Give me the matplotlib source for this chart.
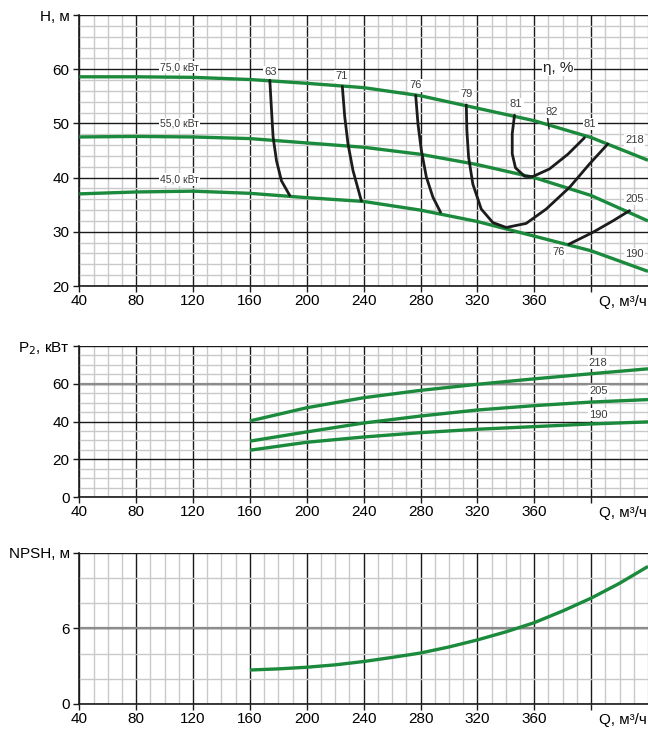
import numpy as np
import matplotlib
matplotlib.use('Agg')
import matplotlib.pyplot as plt
from matplotlib import font_manager as fm

names = {f.name for f in fm.fontManager.ttflist}
NARROW = 'Liberation Sans Narrow' if 'Liberation Sans Narrow' in names else 'Liberation Sans'
plt.rcParams['font.family'] = ['Liberation Sans', 'DejaVu Sans']
TICK_FS = 12 if NARROW == 'Liberation Sans Narrow' else 11

# --- H(Q) curves for three impeller diameters
Q_h = [40, 80, 120, 160, 200, 240, 280, 320, 360, 400, 440]
H_218 = [58.6, 58.6, 58.5, 58.1, 57.4, 56.6, 55.1, 52.8, 50.5, 47.4, 43.2]
H_205 = [47.5, 47.6, 47.5, 47.2, 46.4, 45.6, 44.3, 42.4, 40.0, 36.7, 32.0]
H_190 = [37.0, 37.35, 37.5, 37.1, 36.3, 35.6, 34.0, 31.9, 29.2, 26.5, 22.7]

# --- efficiency iso-lines (Q, H)
eta63_Q = [174.0, 175.2, 176.3, 178.7, 182.2, 188.0]
eta63_H = [57.96, 52.4, 47.5, 43.1, 39.4, 36.7]
eta71_Q = [225.0, 226.7, 229.0, 232.5, 238.4]
eta71_H = [56.85, 51.2, 46.2, 41.3, 35.7]
eta76_Q = [276.6, 278.2, 280.6, 284.1, 288.7, 294.1]
eta76_H = [55.2, 49.9, 45.0, 40.1, 36.4, 33.6]
eta79_Q = [312.2, 312.6, 313.8, 316.8, 322.7, 330.9, 340.3, 354.3, 368.4, 384.8, 398.8, 411.7]
eta79_H = [53.4, 48.7, 43.8, 38.8, 34.2, 31.7, 30.8, 31.55, 34.2, 38.2, 42.5, 46.2]
eta81_Q = [346.1, 344.5, 344.5, 346.8, 353.2, 359.0, 370.7, 383.6, 395.3]
eta81_H = [51.5, 48.1, 44.4, 41.8, 40.25, 40.2, 41.6, 44.3, 47.35]
eta76b_Q = [384.3, 401.2, 415.2, 427.0]
eta76b_H = [27.7, 29.9, 32.0, 33.9]
eta82_Q = [369.4, 370.4]
eta82_H = [51.0, 49.0]

eta_txt = ['63', '71', '76', '79', '81', '82', '81', '76']
eta_txt_Q = [174.7, 224.4, 276.4, 312.2, 347.3, 372.6, 399.3, 377.3]
eta_txt_H = [59.5, 58.7, 57.0, 55.4, 53.5, 52.1, 49.9, 26.2]

pow_txt = ['75,0 кВт', '55,0 кВт', '45,0 кВт']
pow_txt_H = [60.4, 49.9, 39.7]
diam_txt = ['218', '205', '190']
diam_txt_H = [46.85, 36.05, 25.9]

# --- P2(Q)
Q_p = [160, 200, 240, 280, 320, 360, 400, 440]
P_218 = [40.3, 47.3, 52.6, 56.5, 59.7, 62.6, 65.3, 67.9]
P_205 = [29.6, 34.5, 39.2, 42.9, 46.1, 48.4, 50.3, 51.6]
P_190 = [24.8, 29.0, 31.8, 34.1, 35.9, 37.3, 38.7, 39.8]
P_txt_H = [71.1, 56.1, 43.6]

# --- NPSH(Q)
Q_n = [160, 180, 200, 220, 240, 260, 280, 300, 320, 340, 360, 380, 400, 420, 440]
NPSH = [2.7, 2.79, 2.92, 3.11, 3.375, 3.7, 4.05, 4.53, 5.09, 5.73, 6.46, 7.39, 8.41, 9.59, 10.93]

GREEN = '#1b8a3c'
BLACK = '#1c1c1c'
TXT = '#3a3a3a'


def setup(ax, ymin, ymax, ymaj, ymin_step, top_label, gray_line=None):
    ax.set_xlim(40, 440)
    ax.set_ylim(ymin, ymax)
    ax.set_xticks(np.arange(40, 401, 40))
    ax.set_xticklabels([str(v) for v in range(40, 361, 40)] + [''],
                       family=NARROW)
    ax.set_xticks(np.arange(40, 441, 10), minor=True)
    yt = np.arange(ymin, ymax + 0.1, ymaj)
    ax.set_yticks(yt)
    ax.set_yticklabels([str(int(v)) for v in yt[:-1]] + [top_label],
                       family=NARROW)
    ax.set_yticks(np.arange(ymin, ymax + 0.1, ymin_step), minor=True)
    ax.grid(which='minor', color='#c9c9c9', lw=1.0)
    ax.grid(which='major', color='#1a1a1a', lw=1.0)
    ax.set_axisbelow(True)
    ax.tick_params(which='minor', length=0)
    ax.tick_params(axis='x', which='major', length=4, width=1, pad=1.5,
                   labelsize=TICK_FS, color='#1a1a1a')
    ax.tick_params(axis='y', which='major', length=4, width=1, pad=3,
                   labelsize=TICK_FS, color='#1a1a1a')
    for s in ['right', 'top']:
        ax.spines[s].set_visible(False)
    for s in ['left', 'bottom']:
        ax.spines[s].set_color('#1a1a1a')
        ax.spines[s].set_linewidth(1.2)
    if gray_line is not None:
        ax.axhline(gray_line, color='#8c8c8c', lw=1.6, zorder=1)
    ax.annotate('Q, м³/ч', xy=(1, 0), xycoords='axes fraction',
                xytext=(-1, -6.5), textcoords='offset points',
                ha='right', va='top', fontsize=TICK_FS, family=NARROW)
    ax.set_facecolor('none')


fig = plt.figure(figsize=(6.48, 7.36), dpi=100)
ax1 = fig.add_axes([0.1224, 0.6114, 0.8776, 0.3682])
ax2 = fig.add_axes([0.1224, 0.3247, 0.8776, 0.2052])
ax3 = fig.add_axes([0.1224, 0.0435, 0.8776, 0.2052])

setup(ax1, 20, 70, 10, 2, 'H, м')
setup(ax2, 0, 80, 20, 5, 'P$_2$, кВт', gray_line=60)
setup(ax3, 0, 12, 6, 2, 'NPSH, м', gray_line=6)

box = dict(fc='white', ec='none', pad=1.0)

# H(Q)
for hv in [H_218, H_205, H_190]:
    ax1.plot(Q_h, hv, color=GREEN, lw=2.4, solid_capstyle='butt', zorder=3)
for qv, hv in [(eta63_Q, eta63_H), (eta71_Q, eta71_H), (eta76_Q, eta76_H),
               (eta79_Q, eta79_H), (eta81_Q, eta81_H), (eta76b_Q, eta76b_H)]:
    ax1.plot(qv, hv, color=BLACK, lw=2.0, solid_capstyle='round', zorder=4)
ax1.plot(eta82_Q, eta82_H, color=BLACK, lw=1.0, zorder=4)
for t, q, h in zip(eta_txt, eta_txt_Q, eta_txt_H):
    ax1.text(q, h, t, fontsize=8, color=TXT, ha='center', va='center',
             bbox=box, zorder=5)
for t, h in zip(pow_txt, pow_txt_H):
    ax1.text(110.5, h, t, fontsize=7.5, color=TXT, ha='center', va='center',
             bbox=box, zorder=5)
for t, h in zip(diam_txt, diam_txt_H):
    ax1.text(430.5, h, t, fontsize=8, color=TXT, ha='center', va='center',
             bbox=box, zorder=5)
ax1.text(377, 60.2, 'η, %', fontsize=TICK_FS, color='#222222', ha='center',
         va='center', family=NARROW,
         bbox=dict(fc='white', ec='none', pad=0.5), zorder=5)

# P2(Q)
for pv in [P_218, P_205, P_190]:
    ax2.plot(Q_p, pv, color=GREEN, lw=2.4, solid_capstyle='butt', zorder=3)
for t, h in zip(diam_txt, P_txt_H):
    ax2.text(405, h, t, fontsize=8, color=TXT, ha='center', va='center',
             bbox=box, zorder=5)

# NPSH(Q)
ax3.plot(Q_n, NPSH, color=GREEN, lw=2.4, solid_capstyle='butt', zorder=3)

fig.savefig('out.png', dpi=100, facecolor='white')
